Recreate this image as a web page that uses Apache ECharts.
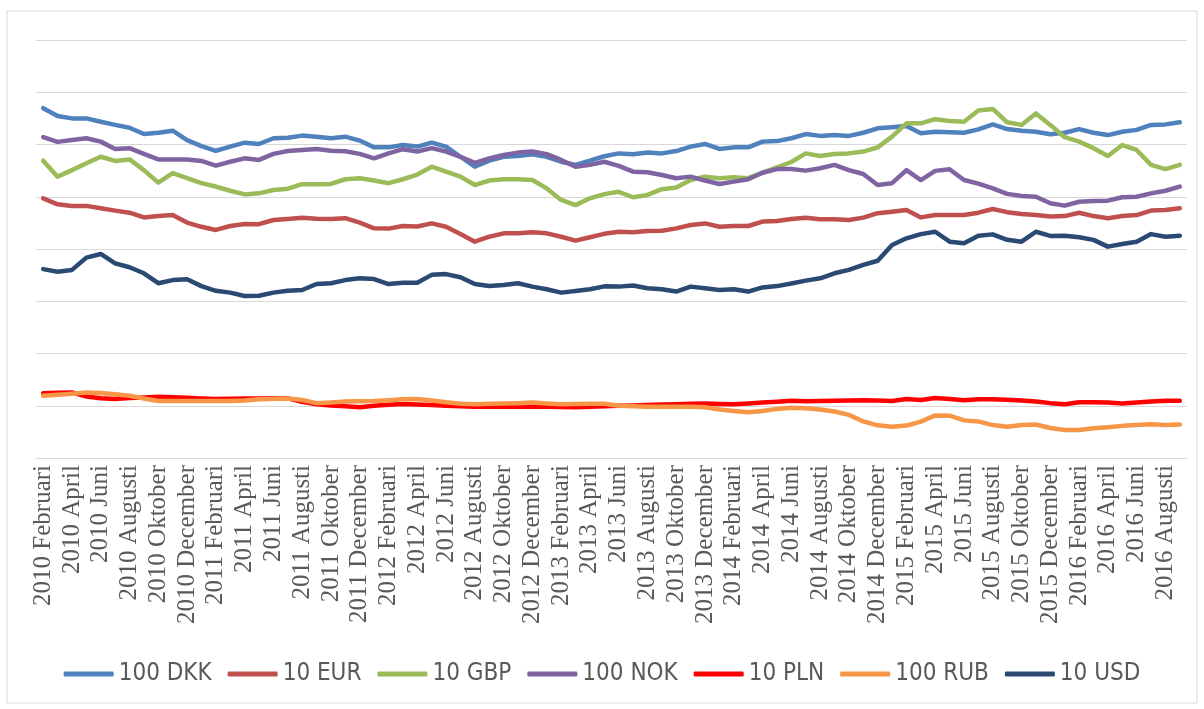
<!DOCTYPE html>
<html>
<head>
<meta charset="utf-8">
<script src="https://cdn.jsdelivr.net/npm/echarts/dist/echarts.min.js"></script>
<style>
  html, body { margin: 0; padding: 0; background: #fff; }
  #chart { width: 1204px; height: 709px; }
</style>
</head>
<body>
<div id="chart"></div>
<script>
// monthly, 2010 Februari .. 2016 September
var years = [2010, 2011, 2012, 2013, 2014, 2015, 2016];
var months = ['Januari', 'Februari', 'Mars', 'April', 'Maj', 'Juni', 'Juli',
              'Augusti', 'September', 'Oktober', 'November', 'December'];
var categories = [];
years.forEach(function (y) {
  months.forEach(function (m, i) {
    if (y === 2010 && i < 1) return;
    if (y === 2016 && i > 8) return;
    categories.push(y + ' ' + m);
  });
});

var dkk = [133.9,130.9,130.0,130.0,128.7,127.5,126.4,124.0,124.5,125.3,121.7,119.4,117.6,119.2,120.7,120.2,
           122.4,122.6,123.4,123.0,122.4,123.0,121.5,118.9,118.9,119.8,119.2,120.7,119.2,115.3,111.5,113.8,
           115.3,115.6,116.3,115.3,113.4,112.2,113.8,115.5,116.6,116.3,116.9,116.6,117.5,119.2,120.2,118.3,
           118.9,118.9,121.1,121.3,122.4,124.0,123.3,123.6,123.3,124.5,126.2,126.6,127.1,124.3,124.9,124.7,
           124.5,125.8,127.7,125.9,125.3,124.9,123.9,124.5,125.9,124.5,123.6,124.9,125.6,127.5,127.7,128.5];
var eur = [99.4,97.1,96.5,96.5,95.6,94.7,93.9,92.1,92.6,93.0,90.1,88.5,87.3,88.8,89.6,89.5,
           91.1,91.5,92.0,91.6,91.5,91.8,90.1,87.9,87.8,88.8,88.6,89.8,88.5,85.7,82.8,84.7,
           86.0,86.0,86.4,86.0,84.7,83.2,84.5,85.8,86.6,86.4,86.9,87.0,87.9,89.2,89.8,88.5,
           88.8,88.8,90.5,90.7,91.5,92.0,91.4,91.4,91.1,92.0,93.7,94.3,94.9,92.1,93.0,93.0,
           93.0,93.9,95.3,94.1,93.4,93.0,92.4,92.6,93.9,92.6,91.8,92.6,93.0,94.7,94.9,95.6];
var gbp = [113.8,107.7,110.2,112.8,115.3,113.7,114.3,110.2,105.4,109.0,107.1,105.2,103.9,102.3,100.9,101.3,
           102.6,103.1,104.8,104.8,104.9,106.7,107.1,106.2,105.2,106.7,108.5,111.5,109.6,107.7,104.5,106.2,
           106.7,106.7,106.4,103.2,98.8,96.8,99.4,101.0,101.9,99.8,100.7,102.9,103.5,106.4,107.7,107.1,
           107.5,107.1,109.2,111.3,113.3,116.6,115.6,116.4,116.6,117.3,118.9,123.0,128.1,128.1,129.7,129.0,
           128.7,133.0,133.6,128.5,127.5,131.9,127.5,122.8,121.1,118.6,115.6,119.8,117.9,112.2,110.6,112.2];
var nok = [122.8,121.0,121.7,122.4,121.1,118.3,118.6,116.4,114.3,114.3,114.3,113.7,111.9,113.4,114.7,114.1,
           116.4,117.5,117.9,118.3,117.6,117.4,116.4,114.7,116.6,118.2,117.3,118.6,117.3,115.3,113.0,114.7,
           116.0,116.9,117.3,116.3,114.1,111.5,112.2,113.4,111.8,109.6,109.4,108.3,107.1,107.7,106.2,104.9,
           105.8,106.7,109.2,110.6,110.6,110.0,110.9,112.2,110.2,108.7,104.5,105.2,110.2,106.4,109.9,110.5,
           106.4,105.0,103.2,101.1,100.3,100.0,97.5,96.6,98.1,98.4,98.5,99.8,100.0,101.3,102.3,103.9];
var pln = [24.8,25.0,25.1,23.5,22.9,22.6,23.0,23.2,23.4,23.3,23.1,22.8,22.6,22.7,22.8,22.8,
           22.9,22.8,21.5,20.6,20.1,19.8,19.4,20.0,20.4,20.7,20.5,20.3,20.0,19.8,19.6,19.6,
           19.6,19.6,19.6,19.6,19.5,19.4,19.6,19.8,20.0,20.1,20.3,20.5,20.6,20.8,20.9,20.7,
           20.6,20.9,21.2,21.5,21.9,21.7,21.8,21.9,22.0,22.1,22.0,21.8,22.6,22.2,23.0,22.6,
           22.1,22.5,22.5,22.3,22.0,21.6,21.0,20.6,21.3,21.3,21.2,20.9,21.2,21.6,21.9,21.9];
var rub = [23.8,24.2,24.6,25.1,24.9,24.4,23.8,22.8,21.8,21.8,21.8,21.8,21.8,21.8,22.0,22.5,
           22.7,22.8,22.2,21.0,21.2,21.6,21.7,21.8,22.1,22.5,22.6,22.0,21.3,20.8,20.6,20.8,
           20.9,21.0,21.2,20.9,20.6,20.7,20.8,20.8,20.0,19.8,19.6,19.6,19.6,19.6,19.4,18.6,
           18.0,17.5,18.0,18.8,19.2,19.0,18.6,17.8,16.5,14.0,12.5,12.0,12.4,13.9,16.3,16.2,
           14.4,14.0,12.6,12.0,12.6,12.8,11.5,10.7,10.7,11.4,11.8,12.3,12.6,12.9,12.6,12.8];
var usd = [72.3,71.3,72.0,76.7,78.1,74.5,73.0,70.7,66.9,68.1,68.4,65.8,64.0,63.3,62.0,62.1,
           63.3,64.0,64.3,66.6,66.9,68.1,68.8,68.5,66.6,67.1,67.1,70.1,70.4,69.2,66.6,65.8,
           66.2,66.9,65.6,64.6,63.3,63.9,64.6,65.7,65.6,66.0,65.0,64.6,63.7,65.6,65.0,64.3,
           64.6,63.7,65.3,65.8,66.8,67.9,68.8,70.7,72.0,73.9,75.5,81.5,84.1,85.7,86.6,82.8,
           82.2,85.1,85.6,83.5,82.8,86.6,85.0,85.1,84.5,83.5,80.9,81.9,82.8,85.7,84.7,85.1];

var seriesNames = ['100 DKK', '10 EUR', '10 GBP', '100 NOK', '10 PLN', '100 RUB', '10 USD'];
var seriesData = [dkk, eur, gbp, nok, pln, rub, usd];
var colors = ['#4f81bd', '#c0504d', '#9bbb59', '#8064a2', '#ff0000', '#f79646', '#2a4a73'];

var chart = echarts.init(document.getElementById('chart'));

var series = seriesNames.map(function (name, i) {
  return {
    name: name,
    type: 'line',
    data: seriesData[i],
    symbol: 'none',
    smooth: false,
    lineStyle: { width: 4.5, color: colors[i], cap: 'round', join: 'round' },
    itemStyle: { color: colors[i] }
  };
});

chart.setOption({
  animation: false,
  color: colors,
  graphic: [{
    type: 'rect',
    shape: { x: 7, y: 11, width: 1190, height: 692 },
    style: { fill: 'none', stroke: '#d9d9d9', lineWidth: 1 },
    silent: true
  }],
  grid: {
    left: 36,
    right: 17,
    top: 40,
    bottom: 251,
    containLabel: false
  },
  legend: {
    data: seriesNames,
    bottom: 18,
    left: 'center',
    icon: 'roundRect',
    itemWidth: 50,
    itemHeight: 5,
    itemGap: 16,
    textStyle: {
      fontFamily: "'Liberation Sans Narrow', 'DejaVu Sans Condensed', 'Roboto Condensed', 'Liberation Sans', sans-serif",
      fontSize: 24,
      color: '#595959'
    }
  },
  xAxis: [{
    type: 'category',
    data: categories,
    boundaryGap: true,
    axisLine: { lineStyle: { color: '#d9d9d9', width: 1 } },
    axisTick: { show: false },
    axisLabel: {
      interval: 1,
      rotate: 90,
      margin: 7,
      fontFamily: 'Liberation Serif',
      fontSize: 25,
      color: '#595959'
    },
    splitLine: { show: false }
  }],
  yAxis: [{
    type: 'value',
    min: 0,
    max: 160,
    interval: 20,
    axisLine: { show: false },
    axisTick: { show: false },
    axisLabel: { show: false },
    splitLine: { show: true, lineStyle: { color: '#d9d9d9', width: 1 } }
  }],
  series: series
});
</script>
</body>
</html>
